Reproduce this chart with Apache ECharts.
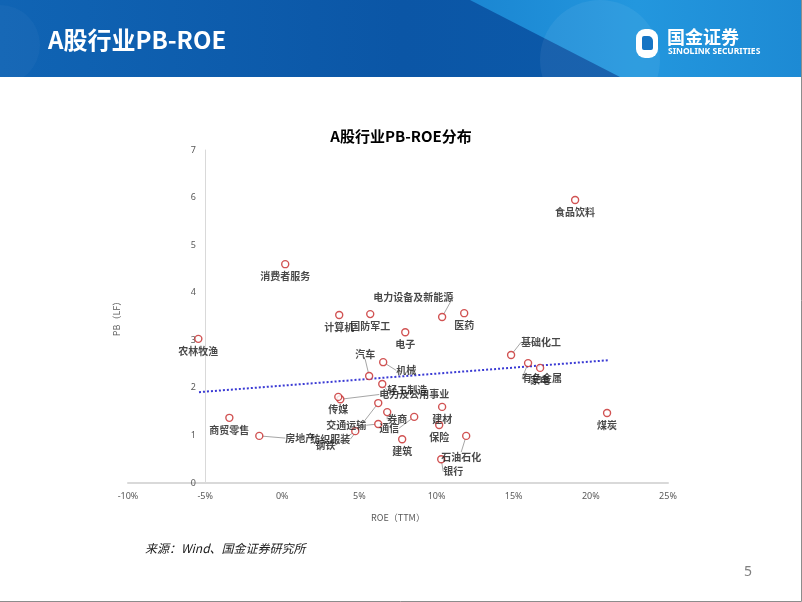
<!DOCTYPE html>
<html>
<head>
<meta charset="utf-8">
<script src="https://cdn.jsdelivr.net/npm/echarts@6/dist/echarts.min.js"></script>
<style>
  html, body { margin: 0; padding: 0; background: #fff; }
  #chart { width: 802px; height: 602px; }
</style>
</head>
<body>
<div id="chart"></div>
<script>
// 行业名称、ROE(TTM, %)、PB(LF)
var industries = ['食品饮料', '消费者服务', '计算机', '国防军工', '电力设备及新能源', '医药', '电子', '农林牧渔',
  '基础化工', '有色金属', '家电', '汽车', '机械', '轻工制造', '电力及公用事业', '传媒', '交通运输', '券商',
  '通信', '纺织服装', '钢铁', '建筑', '建材', '保险', '石油石化', '银行', '煤炭', '商贸零售', '房地产'];
var roe = [18.98, 0.19, 3.69, 5.70, 10.36, 11.79, 7.97, -5.44,
  14.83, 15.93, 16.71, 5.63, 6.54, 6.48, 3.76, 3.63, 6.22, 6.80,
  8.55, 6.22, 4.73, 7.77, 10.36, 10.17, 11.92, 10.30, 21.05, -3.43, -1.49];
var pb = [5.95, 4.60, 3.53, 3.55, 3.49, 3.57, 3.17, 3.03,
  2.69, 2.52, 2.42, 2.25, 2.54, 2.08, 1.76, 1.81, 1.24, 1.49,
  1.39, 1.68, 1.09, 0.92, 1.60, 1.22, 0.99, 0.50, 1.47, 1.37, 0.99];
// 趋势线两端
var trendX = [-5.4, 21.1];
var trendY = [1.91, 2.58];
var xTicks = [-10, 25, 5];
var yTicks = [0, 7, 1];

// 标签偏移（相对默认的下方位置），有偏移的画引导线
var labelShift = {
  '电力设备及新能源': [-29, -32],
  '基础化工': [30, -25],
  '有色金属': [14, 3],
  '汽车': [-4, -34],
  '机械': [23, -4],
  '轻工制造': [25, -6],
  '电力及公用事业': [74, -17],
  '交通运输': [-32, -11],
  '券商': [10, -5],
  '通信': [-25, -1],
  '纺织服装': [-48, 24],
  '钢铁': [-30, 2],
  '房地产': [41, -10],
  '石油石化': [-5, 9],
  '银行': [12, 0]
};

var points = industries.map(function (name, i) {
  return {
    name: name,
    value: [roe[i], pb[i]],
    labelLine: { show: !!labelShift[name] }
  };
});
var trend = trendX.map(function (x, i) { return [x, trendY[i]]; });

var chart = echarts.init(document.getElementById('chart'));
var axisGray = '#595959';
chart.setOption({
  backgroundColor: '#ffffff',
  animation: false,
  title: {
    text: 'A股行业PB-ROE分布',
    left: 'center',
    top: 124,
    textStyle: { fontFamily: 'Noto Sans CJK SC', fontSize: 15, fontWeight: 'bold', color: '#000' }
  },
  grid: [
    { left: 128, right: 134, top: 150, bottom: 119 },
    { left: 205, right: 134, top: 150, bottom: 119 }
  ],
  xAxis: [{
    gridIndex: 0,
    type: 'value',
    min: xTicks[0], max: xTicks[1], interval: xTicks[2],
    name: 'ROE（TTM）',
    nameLocation: 'middle',
    nameGap: 30,
    nameTextStyle: { fontFamily: 'Noto Sans CJK SC', fontSize: 9, color: axisGray },
    axisLine: { onZero: false, lineStyle: { color: '#d9d9d9', width: 2 } },
    axisTick: { show: false },
    splitLine: { show: false },
    axisLabel: { formatter: '{value}%', fontSize: 9, color: axisGray, margin: 9, fontFamily: 'Noto Sans' }
  }, {
    gridIndex: 1, type: 'value', min: 0, max: 1, show: false
  }],
  yAxis: [{
    gridIndex: 0, type: 'value', min: yTicks[0], max: yTicks[1], show: false
  }, {
    gridIndex: 1,
    type: 'value',
    min: yTicks[0], max: yTicks[1], interval: yTicks[2],
    name: 'PB（LF）',
    nameLocation: 'middle',
    nameGap: 84,
    nameRotate: 90,
    nameTextStyle: { fontFamily: 'Noto Sans CJK SC', fontSize: 9, color: axisGray },
    axisLine: { show: true, lineStyle: { color: '#d9d9d9', width: 1 } },
    axisTick: { show: false },
    splitLine: { show: false },
    axisLabel: { fontSize: 9, color: axisGray, margin: 9, fontFamily: 'Noto Sans' }
  }],
  series: [{
    type: 'line',
    xAxisIndex: 0, yAxisIndex: 0,
    data: trend,
    showSymbol: false,
    silent: true,
    z: 1,
    lineStyle: { color: '#3a3ad4', width: 2, type: 'dotted' }
  }, {
    type: 'scatter',
    xAxisIndex: 0, yAxisIndex: 0,
    data: points,
    symbol: 'circle',
    symbolSize: 7,
    z: 3,
    itemStyle: { color: '#ffffff', borderColor: '#c62828', borderWidth: 1.4 },
    label: {
      show: true,
      formatter: '{b}',
      position: 'bottom',
      distance: 3,
      fontFamily: 'Noto Sans CJK SC',
      fontSize: 10,
      fontWeight: 'bold',
      color: '#1a1a1a'
    },
    labelLine: { show: false, lineStyle: { color: '#a6a6a6', width: 1 } },
    labelLayout: function (p) {
      var s = labelShift[industries[p.dataIndex]];
      return s ? { dx: s[0], dy: s[1] } : {};
    }
  }],
  graphic: [
    // 顶部横幅
    {
      type: 'rect', left: 0, top: 0, z: -10,
      shape: { width: 802, height: 77 },
      style: {
        fill: new echarts.graphic.LinearGradient(0, 0, 1, 0, [
          { offset: 0, color: '#1064b4' },
          { offset: 0.5, color: '#0b56a6' },
          { offset: 1, color: '#0c5cab' }
        ])
      }
    },
    {
      type: 'circle', z: -9, silent: true,
      shape: { cx: 0, cy: 45, r: 40 },
      style: { fill: 'rgba(255,255,255,0.03)' }
    },
    {
      type: 'polygon', z: -9, silent: true,
      shape: { points: [[470, 0], [802, 0], [802, 77], [620, 77]] },
      style: {
        fill: new echarts.graphic.LinearGradient(0, 0, 1, 0, [
          { offset: 0, color: '#1b86d2' },
          { offset: 0.5, color: '#2397de' },
          { offset: 1, color: '#1d8ad4' }
        ])
      }
    },
    {
      type: 'circle', z: -8, silent: true,
      shape: { cx: 600, cy: 60, r: 60 },
      style: { fill: 'rgba(255,255,255,0.06)' }
    },
    {
      type: 'text', left: 48, top: 28,
      style: { text: 'A股行业PB-ROE', fill: '#fff', font: 'bold 24px "Noto Sans CJK SC"' }
    },
    // 标志
    {
      type: 'rect', left: 636, top: 29,
      shape: { width: 22, height: 29, r: [9, 9, 9, 9] },
      style: { fill: '#fff' }
    },
    {
      type: 'rect', left: 642, top: 36,
      shape: { width: 11, height: 14, r: [2, 5, 2, 2] },
      style: { fill: '#1574c4' }
    },
    {
      type: 'text', left: 667, top: 28,
      style: { text: '国金证券', fill: '#fff', font: 'bold 18px "Noto Sans CJK SC"' }
    },
    {
      type: 'text', left: 668, top: 47,
      style: { text: 'SINOLINK SECURITIES', fill: '#fff', font: 'bold 8.5px "Noto Sans"' }
    },
    // 来源与页码
    {
      type: 'text', left: 145, top: 542,
      style: { text: '来源：Wind、国金证券研究所', fill: '#1a1a1a', font: 'italic 12px "Noto Sans CJK SC"' }
    },
    {
      type: 'text', left: 744, top: 565,
      style: { text: '5', fill: '#808080', font: '14px "Noto Sans"' }
    },
    {
      type: 'polyline', z: 10, silent: true,
      shape: { points: [[801.5, 0], [801.5, 601.5], [0, 601.5]] },
      style: { fill: 'none', stroke: '#8c8c8c', lineWidth: 1 }
    }
  ]
});
</script>
</body>
</html>
